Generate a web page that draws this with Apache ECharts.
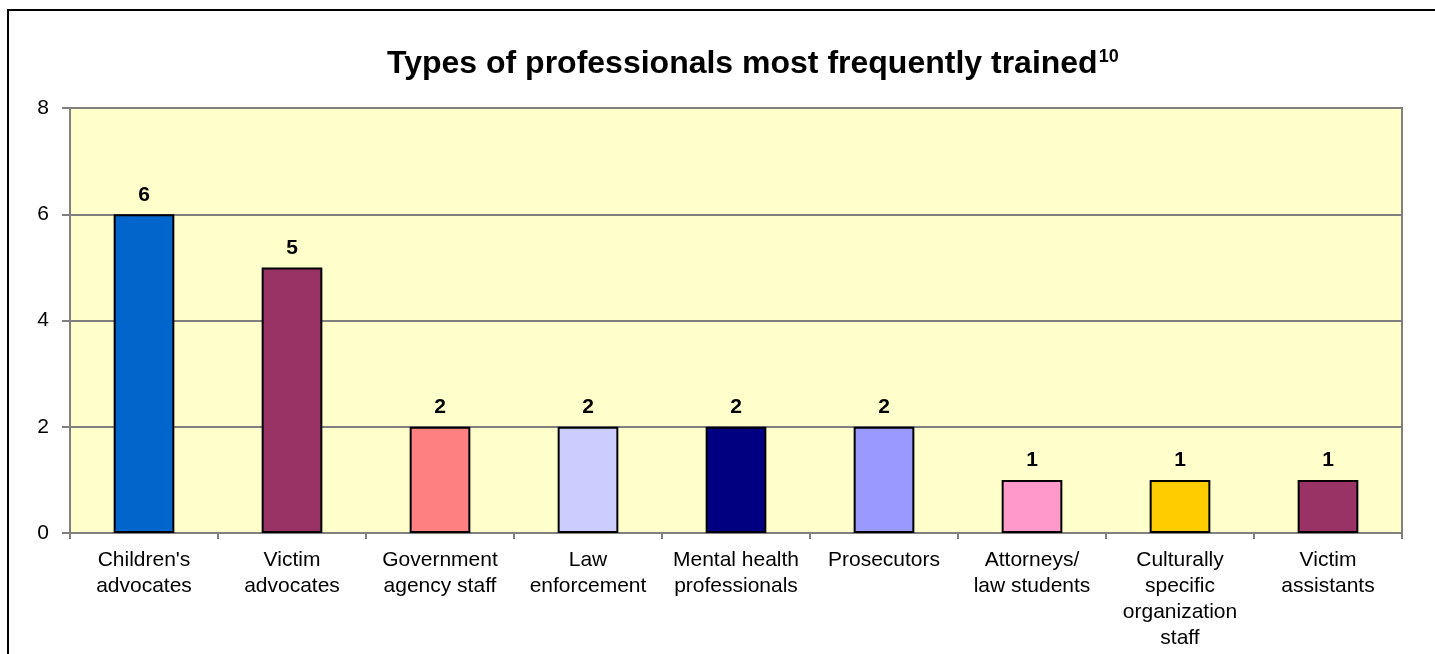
<!DOCTYPE html>
<html><head><meta charset="utf-8">
<script src="https://cdn.jsdelivr.net/npm/echarts@6/dist/echarts.min.js"></script>
<style>html,body{margin:0;padding:0;background:#fff}#c{width:1435px;height:654px}</style>
</head><body><div id="c"></div>
<script>
const categories = ["Children's\nadvocates","Victim\nadvocates","Government\nagency staff","Law\nenforcement","Mental health\nprofessionals","Prosecutors","Attorneys/\nlaw students","Culturally\nspecific\norganization\nstaff","Victim\nassistants"];
const values = [6,5,2,2,2,2,1,1,1];
const colors = ['#0066CC','#993366','#FF8080','#CCCCFF','#000080','#9999FF','#FF99CC','#FFCC00','#993366'];
const yTicks = [0,2,4,6,8];

const chart = echarts.init(document.getElementById('c'), null, {renderer:'canvas'});
const F = "'Liberation Sans', Arial, sans-serif";
chart.setOption({
  animation:false,
  backgroundColor:'#fff',
  graphic:[{type:'rect',shape:{x:8,y:10,width:1440,height:700},style:{fill:'none',stroke:'#000',lineWidth:2},z:-1}],
  title:{
    text:'{t|Types of professionals most frequently trained}{s|10}',
    left:387, top:48, padding:0,
    textStyle:{rich:{
      t:{fontFamily:F,fontSize:32,fontWeight:'bold',color:'#000'},
      s:{fontFamily:F,fontSize:18,fontWeight:'bold',color:'#000',verticalAlign:'top',padding:[0,0,14,1]}
    }}
  },
  grid:{left:70,right:33,top:108,bottom:121,show:true,backgroundColor:'#FFFFCC',borderColor:'#808080',borderWidth:2},
  xAxis:{type:'category',data:categories,
    axisLine:{lineStyle:{color:'#808080',width:2}},
    axisTick:{show:true,length:6,lineStyle:{color:'#808080',width:2},alignWithLabel:false},
    axisLabel:{fontFamily:F,fontSize:21,color:'#000',lineHeight:26,margin:14,interval:0}
  },
  yAxis:{type:'value',min:0,max:8,interval:2,
    axisLine:{show:true,lineStyle:{color:'#808080',width:2}},
    axisTick:{show:true,length:8,lineStyle:{color:'#808080',width:2}},
    splitLine:{lineStyle:{color:'#808080',width:2}},
    axisLabel:{fontFamily:F,fontSize:21,color:'#000',margin:21,
      formatter:v=>yTicks.includes(v)?String(v):''}
  },
  series:[{type:'bar',barWidth:'41%',
    data:values.map((v,i)=>({value:v,itemStyle:{color:colors[i]}})),
    itemStyle:{borderColor:'#000',borderWidth:2},
    label:{show:true,position:'top',distance:9,fontFamily:F,fontSize:21,fontWeight:'bold',color:'#000'}
  }]
});
</script></body></html>
